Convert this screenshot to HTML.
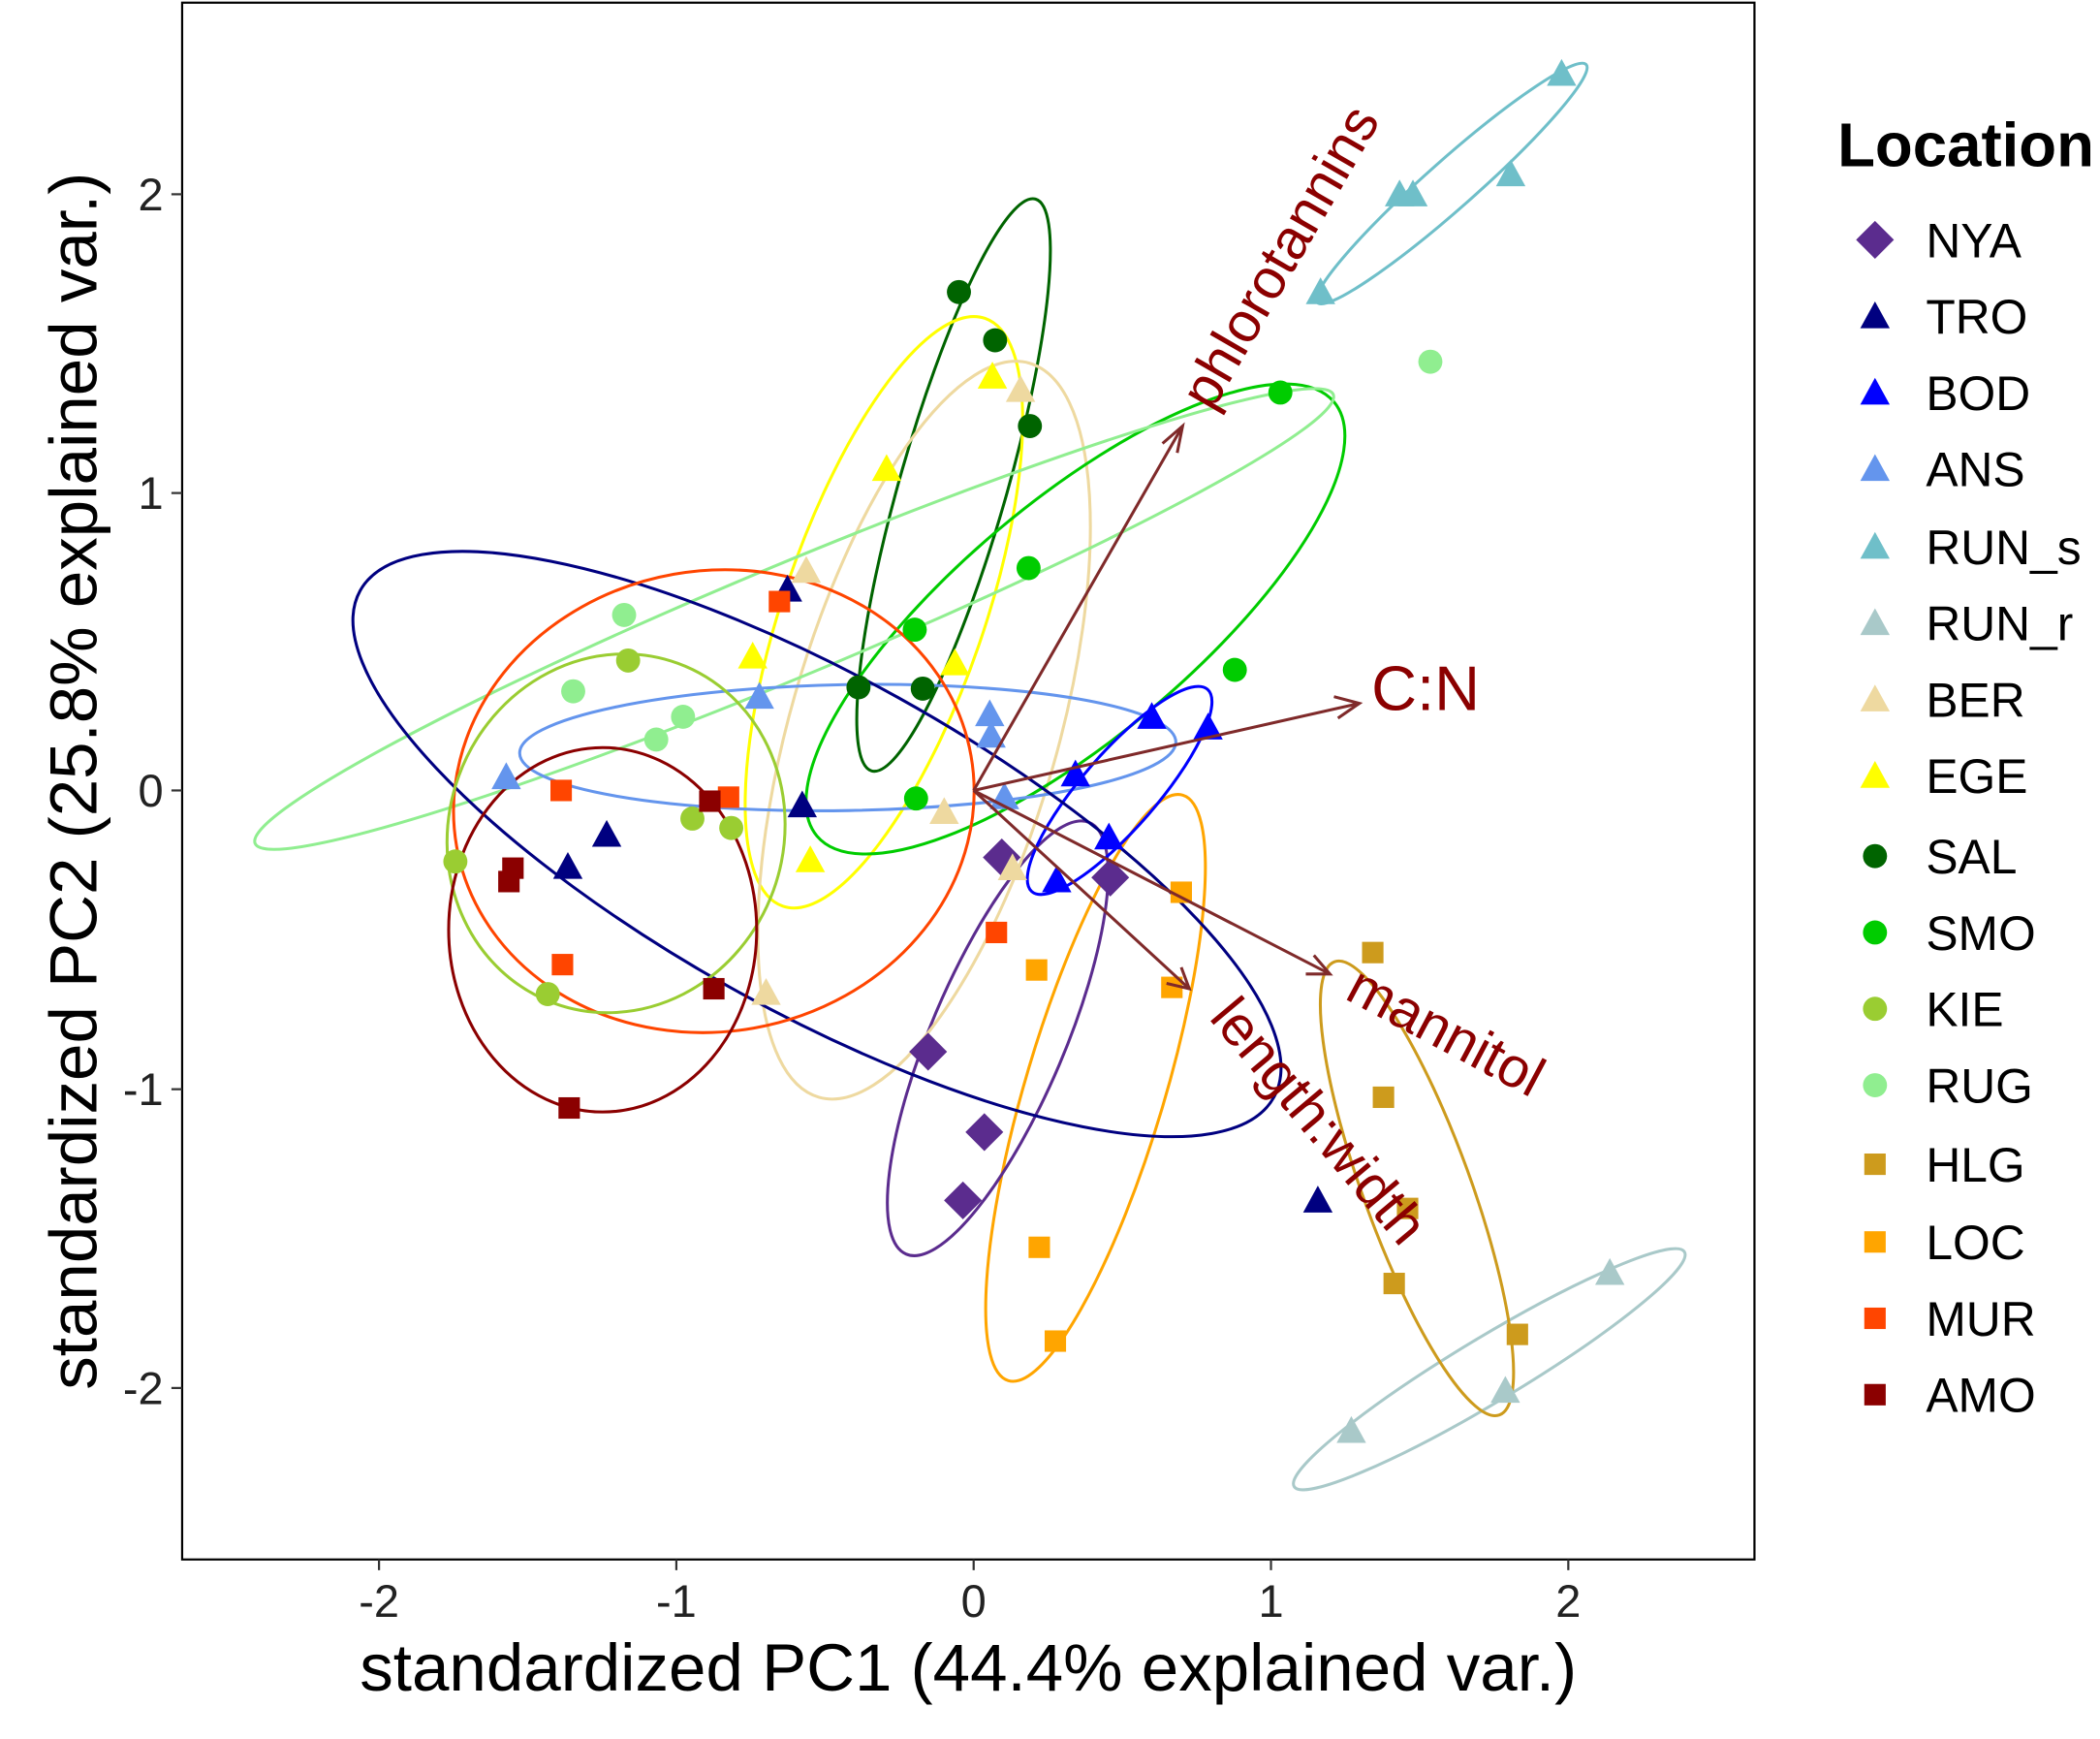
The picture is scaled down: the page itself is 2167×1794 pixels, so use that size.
<!DOCTYPE html>
<html><head><meta charset="utf-8"><style>html,body{margin:0;padding:0;background:#fff}svg{display:block}</style></head><body>
<svg width="2167" height="1794" viewBox="0 0 1568 1298" preserveAspectRatio="none" xmlns="http://www.w3.org/2000/svg" font-family="Liberation Sans, sans-serif">
<defs>
<symbol id="tri" viewBox="-12 -11 24 22" overflow="visible"><polygon points="0,-11 11,9 -11,9"/></symbol>
</defs>
<rect x="136" y="2" width="1174" height="1162" fill="#fff" stroke="#000" stroke-width="1.6"/>
<g fill="none" stroke-width="2.2">
<ellipse cx="1084" cy="137" rx="134" ry="18" transform="rotate(-41.5 1084 137)" stroke="#6fbfc9"/>
<ellipse cx="1112" cy="1022" rx="170" ry="24" transform="rotate(-31 1112 1022)" stroke="#a9c9c9"/>
<ellipse cx="1058" cy="887" rx="180" ry="40" transform="rotate(70 1058 887)" stroke="#cd9b1d"/>
<ellipse cx="818" cy="812" rx="228" ry="52" transform="rotate(106.6 818 812)" stroke="#ffa500"/>
<ellipse cx="745" cy="775" rx="175" ry="50" transform="rotate(113 745 775)" stroke="#5b2c8e"/>
<ellipse cx="712" cy="362" rx="222" ry="40" transform="rotate(106 712 362)" stroke="#006400"/>
<ellipse cx="660" cy="457" rx="232" ry="75" transform="rotate(109 660 457)" stroke="#ffff00"/>
<ellipse cx="690" cy="545" rx="285" ry="100" transform="rotate(106 690 545)" stroke="#eed9a0"/>
<ellipse cx="803" cy="462" rx="252" ry="88" transform="rotate(-40 803 462)" stroke="#00cc00"/>
<ellipse cx="593" cy="462" rx="436" ry="42" transform="rotate(-22.6 593 462)" stroke="#90ee90"/>
<ellipse cx="633" cy="558" rx="245" ry="47" transform="rotate(-1 633 558)" stroke="#6495ed"/>
<ellipse cx="836" cy="590" rx="100" ry="28" transform="rotate(-49 836 590)" stroke="#0000ff"/>
<ellipse cx="610" cy="630" rx="390" ry="125" transform="rotate(29 610 630)" stroke="#000080"/>
<ellipse cx="533" cy="598" rx="195" ry="172" transform="rotate(-10 533 598)" stroke="#ff4500"/>
<ellipse cx="460" cy="622" rx="125" ry="135" transform="rotate(20 460 622)" stroke="#9acd32"/>
<ellipse cx="450" cy="694" rx="115" ry="136" stroke="#8b0000"/>
</g>
<g fill="#5b2c8e">
<rect x="-10" y="-10" width="20" height="20" transform="translate(748 640) rotate(45)"/>
<rect x="-10" y="-10" width="20" height="20" transform="translate(829 655) rotate(45)"/>
<rect x="-10" y="-10" width="20" height="20" transform="translate(693 785) rotate(45)"/>
<rect x="-10" y="-10" width="20" height="20" transform="translate(735 845) rotate(45)"/>
<rect x="-10" y="-10" width="20" height="20" transform="translate(719 896) rotate(45)"/>
</g>
<g fill="#000080"><use href="#tri" x="576" y="429" width="24" height="22"/><use href="#tri" x="587" y="590" width="24" height="22"/><use href="#tri" x="441" y="612" width="24" height="22"/><use href="#tri" x="412" y="636" width="24" height="22"/><use href="#tri" x="972" y="885" width="24" height="22"/></g>
<g fill="#0000ff"><use href="#tri" x="848" y="524" width="24" height="22"/><use href="#tri" x="890" y="532" width="24" height="22"/><use href="#tri" x="791" y="567" width="24" height="22"/><use href="#tri" x="816" y="614" width="24" height="22"/><use href="#tri" x="777" y="646" width="24" height="22"/></g>
<g fill="#6495ed"><use href="#tri" x="366" y="569" width="24" height="22"/><use href="#tri" x="555" y="509" width="24" height="22"/><use href="#tri" x="727" y="522" width="24" height="22"/><use href="#tri" x="728" y="538" width="24" height="22"/><use href="#tri" x="738" y="584" width="24" height="22"/></g>
<g fill="#6fbfc9"><use href="#tri" x="1154" y="44" width="24" height="22"/><use href="#tri" x="1116" y="119" width="24" height="22"/><use href="#tri" x="1033" y="134" width="24" height="22"/><use href="#tri" x="1043" y="134" width="24" height="22"/><use href="#tri" x="974" y="207" width="24" height="22"/></g>
<g fill="#a9c9c9"><use href="#tri" x="1190" y="939" width="24" height="22"/><use href="#tri" x="1112" y="1027" width="24" height="22"/><use href="#tri" x="997" y="1057" width="24" height="22"/></g>
<g fill="#eed9a0"><use href="#tri" x="590" y="415" width="24" height="22"/><use href="#tri" x="750" y="280" width="24" height="22"/><use href="#tri" x="693" y="595" width="24" height="22"/><use href="#tri" x="744" y="637" width="24" height="22"/><use href="#tri" x="560" y="730" width="24" height="22"/></g>
<g fill="#ffff00"><use href="#tri" x="650" y="339" width="24" height="22"/><use href="#tri" x="729" y="270" width="24" height="22"/><use href="#tri" x="550" y="479" width="24" height="22"/><use href="#tri" x="701" y="484" width="24" height="22"/><use href="#tri" x="593" y="631" width="24" height="22"/></g>
<g fill="#006400"><circle cx="716" cy="218" r="9"/><circle cx="743" cy="254" r="9"/><circle cx="769" cy="318" r="9"/><circle cx="641" cy="513" r="9"/><circle cx="689" cy="514" r="9"/></g>
<g fill="#00cc00"><circle cx="956" cy="293" r="9"/><circle cx="768" cy="424" r="9"/><circle cx="683" cy="470" r="9"/><circle cx="922" cy="500" r="9"/><circle cx="684" cy="596" r="9"/></g>
<g fill="#9acd32"><circle cx="469" cy="493" r="9"/><circle cx="517" cy="611" r="9"/><circle cx="546" cy="618" r="9"/><circle cx="340" cy="643" r="9"/><circle cx="409" cy="742" r="9"/></g>
<g fill="#90ee90"><circle cx="1068" cy="270" r="9"/><circle cx="466" cy="459" r="9"/><circle cx="428" cy="516" r="9"/><circle cx="510" cy="535" r="9"/><circle cx="490" cy="552" r="9"/></g>
<g fill="#cd9b1d"><rect x="1017" y="703" width="16" height="16"/><rect x="1025" y="811" width="16" height="16"/><rect x="1043" y="894" width="16" height="16"/><rect x="1033" y="950" width="16" height="16"/><rect x="1125" y="988" width="16" height="16"/></g>
<g fill="#ffa500"><rect x="874" y="658" width="16" height="16"/><rect x="867" y="729" width="16" height="16"/><rect x="766" y="716" width="16" height="16"/><rect x="768" y="923" width="16" height="16"/><rect x="780" y="993" width="16" height="16"/></g>
<g fill="#ff4500"><rect x="574" y="441" width="16" height="16"/><rect x="411" y="582" width="16" height="16"/><rect x="536" y="587" width="16" height="16"/><rect x="736" y="688" width="16" height="16"/><rect x="412" y="712" width="16" height="16"/></g>
<g fill="#8b0000"><rect x="522" y="590" width="16" height="16"/><rect x="375" y="640" width="16" height="16"/><rect x="372" y="650" width="16" height="16"/><rect x="525" y="730" width="16" height="16"/><rect x="417" y="819" width="16" height="16"/></g>
<g stroke="#7f2a2a" stroke-width="2.2" fill="none">
<line x1="727" y1="590" x2="883" y2="318"/><polyline points="868,331 883,318 879,338"/>
<line x1="727" y1="590" x2="1015" y2="525"/><polyline points="996,520 1015,525 999,536"/>
<line x1="727" y1="590" x2="993" y2="727"/><polyline points="975,727 993,727 981,713"/>
<line x1="727" y1="590" x2="888" y2="738"/><polyline points="871,734 888,738 882,722"/>
</g>
<g fill="#8b0000" font-size="42">
<text transform="translate(905 308) rotate(-60)">phlorotannins</text>
<text x="1024" y="530" font-size="47">C:N</text>
<text transform="translate(1003 745) rotate(28)">mannitol</text>
<text transform="translate(902 760) rotate(50)">length:width</text>
</g>
<g stroke="#333" stroke-width="1.6">
<line x1="283" y1="1164" x2="283" y2="1172"/><line x1="505" y1="1164" x2="505" y2="1172"/><line x1="727" y1="1164" x2="727" y2="1172"/><line x1="949" y1="1164" x2="949" y2="1172"/><line x1="1171" y1="1164" x2="1171" y2="1172"/>
<line x1="128" y1="145" x2="136" y2="145"/><line x1="128" y1="368" x2="136" y2="368"/><line x1="128" y1="590" x2="136" y2="590"/><line x1="128" y1="813" x2="136" y2="813"/><line x1="128" y1="1036" x2="136" y2="1036"/>
</g>
<g fill="#222" font-size="34" text-anchor="middle">
<text x="283" y="1207">-2</text><text x="505" y="1207">-1</text><text x="727" y="1207">0</text><text x="949" y="1207">1</text><text x="1171" y="1207">2</text>
</g>
<g fill="#222" font-size="34" text-anchor="end">
<text x="122" y="157">2</text><text x="122" y="380">1</text><text x="122" y="602">0</text><text x="122" y="825">-1</text><text x="122" y="1048">-2</text>
</g>
<text x="723" y="1262" font-size="50" text-anchor="middle" fill="#000">standardized PC1 (44.4% explained var.)</text>
<text transform="translate(72 583) rotate(-90)" font-size="50" text-anchor="middle" fill="#000">standardized PC2 (25.8% explained var.)</text>
<text x="1372" y="124" font-size="46" font-weight="bold">Location</text>
<g font-size="36" fill="#000">
<rect x="-10" y="-10" width="20" height="20" transform="translate(1400 179) rotate(45)" fill="#5b2c8e"/><text x="1438" y="192">NYA</text>
<use href="#tri" x="1388" y="225" width="24" height="22" fill="#000080"/><text x="1438" y="249">TRO</text>
<use href="#tri" x="1388" y="282" width="24" height="22" fill="#0000ff"/><text x="1438" y="306">BOD</text>
<use href="#tri" x="1388" y="339" width="24" height="22" fill="#6495ed"/><text x="1438" y="363">ANS</text>
<use href="#tri" x="1388" y="397" width="24" height="22" fill="#6fbfc9"/><text x="1438" y="421">RUN_s</text>
<use href="#tri" x="1388" y="454" width="24" height="22" fill="#a9c9c9"/><text x="1438" y="478">RUN_r</text>
<use href="#tri" x="1388" y="511" width="24" height="22" fill="#eed9a0"/><text x="1438" y="535">BER</text>
<use href="#tri" x="1388" y="568" width="24" height="22" fill="#ffff00"/><text x="1438" y="592">EGE</text>
<circle cx="1400" cy="639" r="9" fill="#006400"/><text x="1438" y="652">SAL</text>
<circle cx="1400" cy="696" r="9" fill="#00cc00"/><text x="1438" y="709">SMO</text>
<circle cx="1400" cy="753" r="9" fill="#9acd32"/><text x="1438" y="766">KIE</text>
<circle cx="1400" cy="810" r="9" fill="#90ee90"/><text x="1438" y="823">RUG</text>
<rect x="1392" y="861" width="16" height="16" fill="#cd9b1d"/><text x="1438" y="882">HLG</text>
<rect x="1392" y="919" width="16" height="16" fill="#ffa500"/><text x="1438" y="940">LOC</text>
<rect x="1392" y="976" width="16" height="16" fill="#ff4500"/><text x="1438" y="997">MUR</text>
<rect x="1392" y="1033" width="16" height="16" fill="#8b0000"/><text x="1438" y="1054">AMO</text>
</g>
</svg>
</body></html>
